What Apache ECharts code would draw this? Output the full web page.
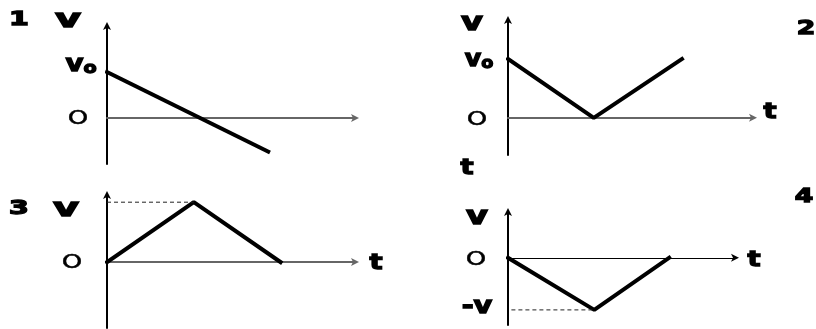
<!DOCTYPE html>
<html><head><meta charset="utf-8">
<script src="https://cdn.jsdelivr.net/npm/echarts@6/dist/echarts.min.js"></script>
<style>html,body{margin:0;padding:0;background:#fff}#c{width:816px;height:329px}</style>
</head><body><div id="c"></div>
<script>
// Panel data (t, v) in arbitrary units
const line1 = [[0, 1], [6.5, -0.73]];
const line2 = [[0, 1], [3.5, 0], [7.1, 1]];
const line3 = [[0, 0], [3.5, 1], [7.0, 0]];
const dash3 = [[0, 1], [3.5, 1]];
const line4 = [[0, 0], [3.8, -1], [7.1, 0]];
const dash4 = [[0.15, -1], [3.8, -1]];
const panelNumbers = ['1', '2', '3', '4'];
const axisNameV = 'v';
const axisNameT = 't';
const zeroLabel = 'O';

const chart = echarts.init(document.getElementById('c'));
const grids = [
  {left: 107, top: 26, width: 248, height: 138},
  {left: 508, top: 20, width: 245, height: 135},
  {left: 107, top: 195, width: 248, height: 133},
  {left: 508, top: 212, width: 227, height: 113}
];
const yr = [[-1, 2], [-0.63, 1.66], [-1.1, 1.12], [-1.29, 0.88]];
const xColor = ['#666', '#666', '#666', '#000'];
const xWidth = [2, 2, 2, 1];
const xAxes = grids.map((g, i) => ({
  gridIndex: i, type: 'value', min: 0, max: 10,
  axisLine: {onZero: true, symbol: ['none', 'arrow'], symbolSize: [6, 8], symbolOffset: [0, 4],
    lineStyle: {color: xColor[i], width: xWidth[i]}},
  axisTick: {show: false}, axisLabel: {show: false}, splitLine: {show: false}
}));
const yAxes = grids.map((g, i) => ({
  gridIndex: i, type: 'value', min: yr[i][0], max: yr[i][1],
  axisLine: {show: true, onZero: false, symbol: ['none', 'arrow'], symbolSize: [6, 8], symbolOffset: [0, 4],
    lineStyle: {color: '#000', width: 2}},
  axisTick: {show: false}, axisLabel: {show: false}, splitLine: {show: false}
}));
const solid = (d, i) => ({type: 'line', xAxisIndex: i, yAxisIndex: i, data: d, symbol: 'none',
  lineStyle: {color: '#000', width: 4, cap: 'square'}, silent: true, animation: false});
const dashed = (d, i) => ({type: 'line', xAxisIndex: i, yAxisIndex: i, data: d, symbol: 'none',
  lineStyle: {color: '#222', width: 1, type: [4, 3]}, silent: true, animation: false});

function txt(str, x, y, size, sx, weight, rich) {
  const bold = (weight || 'bold') === 'bold';
  return {type: 'text', x: x, y: y, scaleX: sx, silent: true,
    style: {text: str, x: 0, y: 0, align: 'center', verticalAlign: 'middle',
      font: (weight || 'bold') + ' ' + size + 'px "DejaVu Sans"', fill: '#000',
      stroke: '#000', lineWidth: bold ? 1.3 : 0.5, rich: rich}};
}
const richV0 = {a: {fontSize: 23, fontWeight: 'bold', fontFamily: 'DejaVu Sans'},
  b: {fontSize: 16, fontWeight: 'bold', fontFamily: 'DejaVu Sans', padding: [7, 0, 0, 0]}};

chart.setOption({
  animation: false,
  grid: grids,
  xAxis: xAxes,
  yAxis: yAxes,
  series: [solid(line1, 0), solid(line2, 1), solid(line3, 2), dashed(dash3, 2), solid(line4, 3), dashed(dash4, 3)],
  graphic: [
    txt(panelNumbers[0], 19, 20, 19, 1.5),
    txt(axisNameV, 68, 20, 25, 1.6),
    txt('{a|v}{b|o}', 81, 65, 23, 1.2, 'bold', richV0),
    txt(zeroLabel, 78, 119, 20, 1.3, 'normal'),

    txt(axisNameV, 472, 24, 24, 1.4),
    txt('{a|v}{b|o}', 479, 60, 23, 1.1, 'bold', richV0),
    txt(zeroLabel, 477, 120, 20, 1.3, 'normal'),
    txt(axisNameT, 770, 113, 21, 1.3),
    txt(panelNumbers[1], 806, 29, 19, 1.4),
    txt(axisNameT, 467, 169, 21, 1.3),

    txt(panelNumbers[2], 19, 209, 19, 1.5),
    txt(axisNameV, 66, 209, 25, 1.6),
    txt(zeroLabel, 72, 263, 20, 1.3, 'normal'),
    txt(axisNameT, 376, 264, 21, 1.3),

    txt(axisNameV, 477, 218, 24, 1.4),
    txt(zeroLabel, 476, 260, 20, 1.3, 'normal'),
    txt('-v', 477, 307, 23, 1.25),
    txt(axisNameT, 754, 261, 21, 1.3),
    txt(panelNumbers[3], 804, 197, 19, 1.4)
  ]
});
</script></body></html>
